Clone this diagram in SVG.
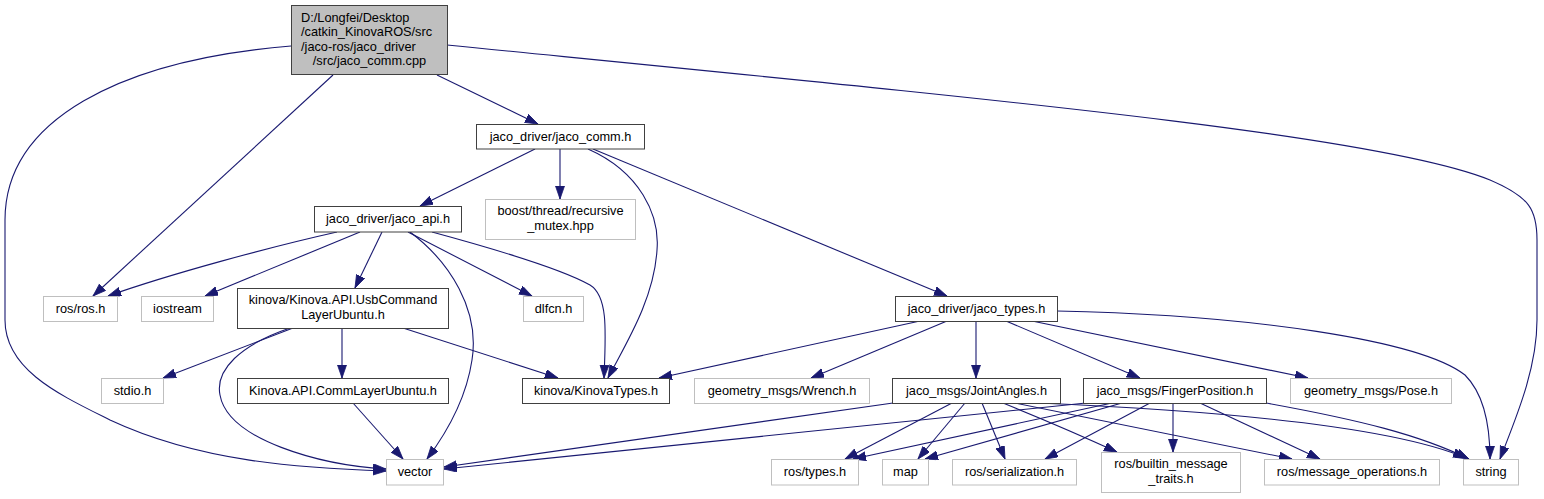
<svg xmlns="http://www.w3.org/2000/svg" width="1544" height="499" viewBox="0 0 1544 499">
<style>
.n rect{fill:#ffffff;stroke:#404040;stroke-width:1}
.u rect{fill:#ffffff;stroke:#bfbfbf;stroke-width:1}
.r rect{fill:#bfbfbf;stroke:#404040;stroke-width:1}
text{font-family:"Liberation Sans",Arial,sans-serif;font-size:12.75px;fill:#000}
.c{text-anchor:middle}
#edges path{fill:none;stroke:#191970;stroke-width:1.1;marker-end:url(#ah)}
</style>
<defs>
<marker id="ah" markerUnits="userSpaceOnUse" markerWidth="14" markerHeight="10" refX="13" refY="4.5" orient="auto">
<path d="M0,0 L13,4.5 L0,9 z" fill="#191970" stroke="#191970" stroke-width="0.8"/>
</marker>
</defs>
<rect width="1544" height="499" fill="#ffffff"/>
<g id="edges">
<path d="M291,46 C120,60 5,120 5,220 L5,320 C5,370 60,395 110,420 C200,462 300,468 386,471"/>
<path d="M333,75 L93,296"/>
<path d="M437,75 L538,124"/>
<path d="M447,45 C1000,100 1380,135 1490,180 C1530,197 1537,210 1537,240 L1537,320 C1537,370 1515,420 1500,459"/>
<path d="M535,149 L420,206"/>
<path d="M560,149 L560,199"/>
<path d="M588,149 C640,172 660,215 657,250 C654,300 625,345 608,378"/>
<path d="M593,149 L947,296"/>
<path d="M337,232 C270,247 170,274 108,296"/>
<path d="M360,232 L205,296"/>
<path d="M382,232 L355,288"/>
<path d="M410,232 C450,262 480,310 472,360 C466,400 445,435 427,459"/>
<path d="M408,232 L532,296"/>
<path d="M432,232 C480,245 560,268 590,285 C608,296 606,330 604,378"/>
<path d="M293,328 L163,378"/>
<path d="M342,328 L342,378"/>
<path d="M403,328 L558,378"/>
<path d="M290,328 C240,345 215,370 220,395 C228,440 320,465 386,469"/>
<path d="M353,403 L403,459"/>
<path d="M920,321 L659,378"/>
<path d="M947,321 L811,378"/>
<path d="M976,321 L976,378"/>
<path d="M1006,321 L1140,378"/>
<path d="M1032,321 L1308,378"/>
<path d="M1057,311 C1250,315 1420,340 1465,375 C1485,395 1490,430 1490,459"/>
<path d="M893,403 L444,467"/>
<path d="M952,403 L845,459"/>
<path d="M965,403 L918,459"/>
<path d="M982,403 L1005,459"/>
<path d="M1003,403 C1040,418 1080,435 1117,452"/>
<path d="M1015,403 L1292,459"/>
<path d="M1038,403 C1250,412 1400,430 1466,458"/>
<path d="M1086,403 L444,469"/>
<path d="M1112,403 L853,459"/>
<path d="M1122,403 L925,459"/>
<path d="M1150,403 L1045,459"/>
<path d="M1173,403 L1173,452"/>
<path d="M1200,403 L1320,459"/>
<path d="M1266,403 C1360,420 1420,435 1469,459"/>
</g>
<g id="root" class="r"><rect x="291.5" y="5.5" width="156" height="69"/>
<text x="301" y="21.5">D:/Longfei/Desktop</text>
<text x="301" y="36">/catkin_KinovaROS/src</text>
<text x="301" y="50.5">/jaco-ros/jaco_driver</text>
<text class="c" x="369.5" y="65">/src/jaco_comm.cpp</text></g>
<g id="jaco_comm" class="n"><rect x="476.5" y="124.5" width="168" height="24.5"/><text class="c" x="560.5" y="141">jaco_driver/jaco_comm.h</text></g>
<g id="boost" class="u"><rect x="485.5" y="199.5" width="150" height="40"/><text class="c" x="560.5" y="215">boost/thread/recursive</text><text class="c" x="560.5" y="230">_mutex.hpp</text></g>
<g id="jaco_api" class="n"><rect x="314.5" y="206.5" width="147" height="25.5"/><text class="c" x="388" y="223">jaco_driver/jaco_api.h</text></g>
<g id="ros_ros" class="u"><rect x="43.5" y="296.5" width="74" height="25"/><text class="c" x="80.5" y="313">ros/ros.h</text></g>
<g id="iostream" class="u"><rect x="141.5" y="296.5" width="72" height="25"/><text class="c" x="177.5" y="313">iostream</text></g>
<g id="usbcmd" class="n"><rect x="237.5" y="288.5" width="211" height="40"/><text class="c" x="343" y="304">kinova/Kinova.API.UsbCommand</text><text class="c" x="343" y="319">LayerUbuntu.h</text></g>
<g id="dlfcn" class="u"><rect x="523.5" y="296.5" width="60" height="25"/><text class="c" x="553.5" y="313">dlfcn.h</text></g>
<g id="jaco_types" class="n"><rect x="895.5" y="296.5" width="162" height="25"/><text class="c" x="976.5" y="313">jaco_driver/jaco_types.h</text></g>
<g id="stdio" class="u"><rect x="101.5" y="378.5" width="62" height="25"/><text class="c" x="132.5" y="395">stdio.h</text></g>
<g id="commlayer" class="n"><rect x="237.5" y="378.5" width="211" height="25"/><text class="c" x="343" y="395">Kinova.API.CommLayerUbuntu.h</text></g>
<g id="kinovatypes" class="n"><rect x="522.5" y="378.5" width="147" height="25"/><text class="c" x="596" y="395">kinova/KinovaTypes.h</text></g>
<g id="wrench" class="u"><rect x="694.5" y="378.5" width="175" height="25"/><text class="c" x="782" y="395">geometry_msgs/Wrench.h</text></g>
<g id="jointangles" class="n"><rect x="892.5" y="378.5" width="168" height="25"/><text class="c" x="976.5" y="395">jaco_msgs/JointAngles.h</text></g>
<g id="fingerposition" class="n"><rect x="1083.5" y="378.5" width="183" height="25"/><text class="c" x="1175" y="395">jaco_msgs/FingerPosition.h</text></g>
<g id="pose" class="u"><rect x="1290.5" y="378.5" width="161" height="25"/><text class="c" x="1371" y="395">geometry_msgs/Pose.h</text></g>
<g id="vector" class="u"><rect x="386.5" y="459.5" width="57" height="25.5"/><text class="c" x="415" y="476">vector</text></g>
<g id="ros_types" class="u"><rect x="771.5" y="459.5" width="87" height="25.5"/><text class="c" x="815" y="476">ros/types.h</text></g>
<g id="map" class="u"><rect x="882.5" y="459.5" width="46" height="25.5"/><text class="c" x="905.5" y="476">map</text></g>
<g id="serialization" class="u"><rect x="952.5" y="459.5" width="124" height="25.5"/><text class="c" x="1014.5" y="476">ros/serialization.h</text></g>
<g id="builtin" class="u"><rect x="1101.5" y="452.5" width="139" height="40"/><text class="c" x="1171" y="468">ros/builtin_message</text><text class="c" x="1171" y="483">_traits.h</text></g>
<g id="msgops" class="u"><rect x="1264.5" y="459.5" width="175" height="25.5"/><text class="c" x="1352" y="476">ros/message_operations.h</text></g>
<g id="string" class="u"><rect x="1463.5" y="459.5" width="55" height="25.5"/><text class="c" x="1491" y="476">string</text></g>
</svg>
